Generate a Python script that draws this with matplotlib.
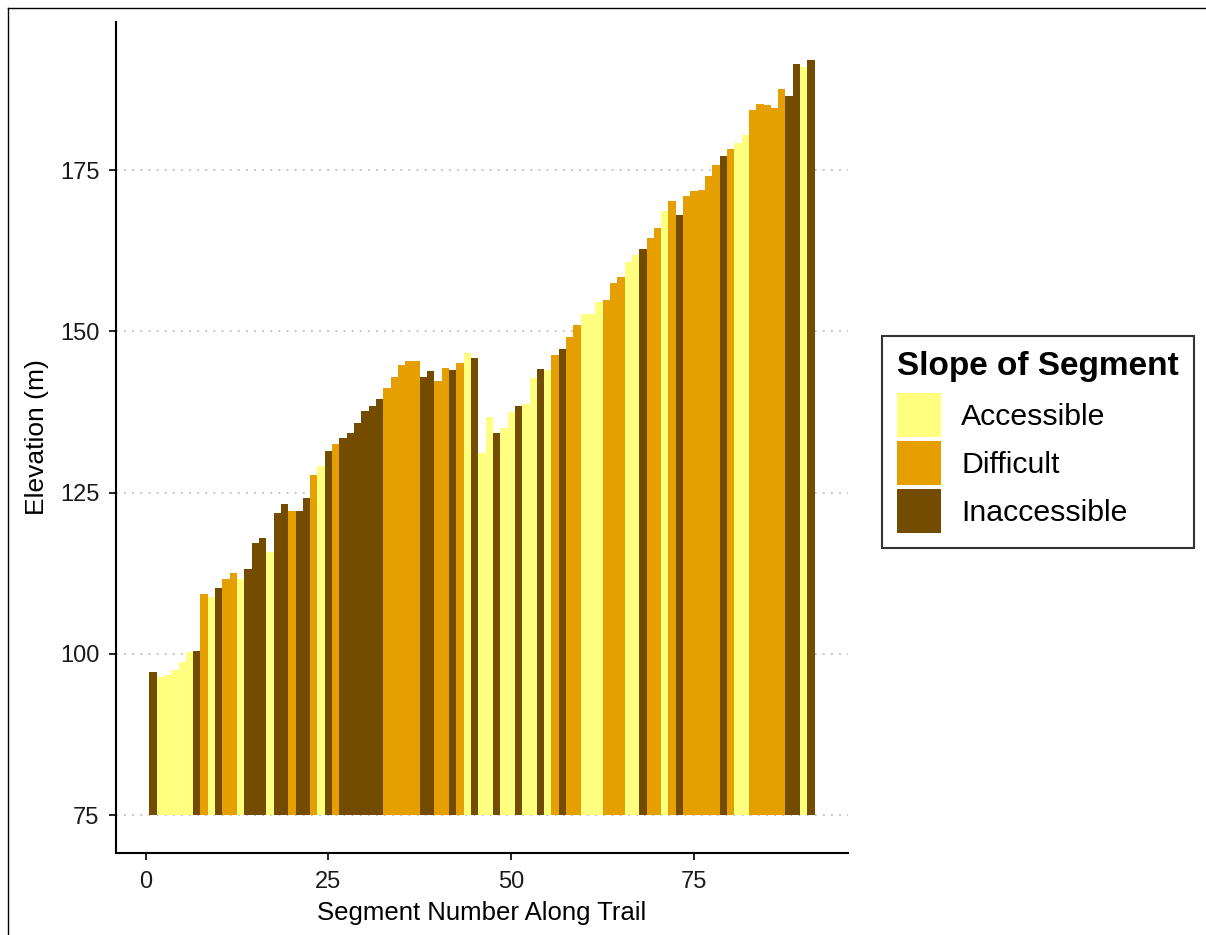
import matplotlib
matplotlib.use("Agg")
import matplotlib.pyplot as plt
from matplotlib.patches import Patch
from matplotlib.lines import Line2D
import numpy as np

plt.rcParams['font.family'] = ['Liberation Sans', 'DejaVu Sans']

# ---- data ----
segments = list(range(1, 92))
elevation = [
    97.2, 96.5, 96.8, 97.5, 98.8, 100.3, 100.5, 109.3, 108.8, 110.2,
    111.6, 112.5, 111.6, 113.2, 117.2, 118.0, 115.8, 121.9, 123.3, 122.2,
    122.2, 124.1, 127.8, 129.2, 131.4, 132.5, 133.5, 134.2, 135.8, 137.6,
    138.4, 139.5, 141.2, 143.0, 144.8, 145.4, 145.4, 143.0, 143.9, 142.3,
    144.4, 144.0, 145.1, 146.6, 145.9, 131.1, 136.7, 134.2, 135.1, 137.5,
    138.4, 138.7, 142.7, 144.2, 144.0, 146.3, 147.3, 149.1, 151.0, 152.7,
    152.7, 154.6, 154.8, 157.5, 158.5, 160.7, 161.8, 162.7, 164.5, 166.0,
    168.6, 170.2, 168.1, 171.0, 171.7, 171.9, 174.1, 175.8, 177.2, 178.3,
    179.2, 180.5, 184.3, 185.3, 185.1, 184.7, 187.5, 186.5, 191.4, 191.0,
    192.1,
]
slope = list(
    "IAAAAAIDAI"
    "DDAIIIAIID"
    "IIDAIDIIII"
    "IIDDDDDIID"
    "DIDAIAAIAA"
    "IAAIADIDDA"
    "AADDDAAIDD"
    "ADIDDDDDID"
    "AADDDDDIIA"
    "I"
)
categories = ["Accessible", "Difficult", "Inaccessible"]
codes = ["A", "D", "I"]
colors = {"A": "#FFFF80", "D": "#E69F00", "I": "#734C00"}
baseline = 75
y_ticks = [75, 100, 125, 150, 175]
x_ticks = [0, 25, 50, 75]

# ---- figure ----
W, H = 1206, 935
fig = plt.figure(figsize=(W / 100, H / 100), dpi=100)
ax = fig.add_axes([116 / W, 1 - 853 / H, (848 - 116) / W, (853 - 22) / H])

heights = [e - baseline for e in elevation]
bar_colors = [colors[s] for s in slope]
ax.bar(segments, heights, bottom=baseline, width=1.0, color=bar_colors,
       linewidth=0, zorder=2)

n = len(segments)
xlo, xhi = 0.5, n + 0.5
xpad = 0.05 * (xhi - xlo)
ax.set_xlim(xlo - xpad, xhi + xpad)
ymax = max(elevation)
ypad = 0.05 * (ymax - baseline)
ax.set_ylim(baseline - ypad, ymax + ypad)

ax.set_xticks(x_ticks)
ax.set_yticks(y_ticks)
ax.yaxis.grid(True, linestyle=(0, (1, 3.5)), color="#BDBDBD", linewidth=1.3, zorder=0)
ax.set_axisbelow(True)

for side in ["top", "right"]:
    ax.spines[side].set_visible(False)
for side in ["left", "bottom"]:
    ax.spines[side].set_linewidth(1.5)
    ax.spines[side].set_color("black")

ax.tick_params(axis="both", length=5, width=1.2, color="black",
               labelsize=17, labelcolor="#1a1a1a")
ax.tick_params(axis="y", pad=7)
ax.tick_params(axis="x", pad=8)
ax.set_xlabel("Segment Number Along Trail", fontsize=18.5, labelpad=6)
ax.set_ylabel("Elevation (m)", fontsize=19, labelpad=8)

handles = [Patch(facecolor=colors[c], edgecolor="none") for c in codes]
leg = fig.legend(handles, categories, loc="center left",
                 bbox_to_anchor=(882 / W, 1 - 442 / H),
                 borderaxespad=0,
                 title="Slope of Segment",
                 title_fontproperties={"weight": "bold", "size": 24},
                 fontsize=21.8, frameon=True, fancybox=False,
                 edgecolor="black", handlelength=1.45, handleheight=1.86,
                 labelspacing=0.13, handletextpad=0.66, borderpad=0.5,
                 alignment="left")
leg.get_frame().set_linewidth(1.5)
leg._legend_box.sep = 8

# outer border lines (top and left)
fig.add_artist(Line2D([8 / W, 1.0], [1 - 8 / H, 1 - 8 / H], color="black",
                      linewidth=1, transform=fig.transFigure))
fig.add_artist(Line2D([8 / W, 8 / W], [0, 1 - 8 / H], color="black",
                      linewidth=1, transform=fig.transFigure))

fig.savefig("out.png", dpi=100)
